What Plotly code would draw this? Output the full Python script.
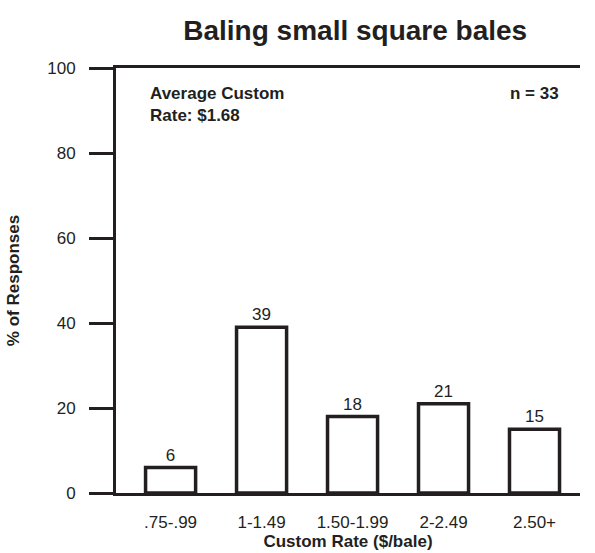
import plotly.graph_objects as go

categories = [".75-.99", "1-1.49", "1.50-1.99", "2-2.49", "2.50+"]
values = [6, 39, 18, 21, 15]
y_ticks = [0, 20, 40, 60, 80, 100]

INK = "#231f20"
FONT = "Liberation Sans, Arial, Helvetica, sans-serif"

fig = go.Figure(go.Bar(
    x=categories, y=values,
    width=0.55,
    marker=dict(color="white", line=dict(color=INK, width=3.5)),
    text=values, textposition="outside", cliponaxis=False,
    textfont=dict(family=FONT, size=17, color=INK),
))

fig.update_layout(
    width=595, height=553,
    margin=dict(l=116, r=15, t=68, b=60),
    paper_bgcolor="white", plot_bgcolor="white",
    font=dict(family=FONT, color=INK),
    showlegend=False,
    title=dict(text="<b>Baling small square bales</b>", x=0.597, xanchor="center",
               y=0.945, yanchor="middle", font=dict(size=28, color=INK)),
    xaxis=dict(
        type="category", range=[-0.6, 4.5], automargin=False,
        showline=True, linecolor=INK, linewidth=3, mirror=True,
        ticks="", showgrid=False,
        tickfont=dict(size=17, color=INK), ticklabelstandoff=12,
        title=dict(text="<b>Custom Rate ($/bale)</b>", font=dict(size=17, color=INK), standoff=3),
    ),
    yaxis=dict(
        range=[0, 100], tickvals=y_ticks, automargin=False,
        showline=True, linecolor=INK, linewidth=3, mirror=False,
        ticks="outside", ticklen=24, tickwidth=3, tickcolor=INK,
        showgrid=False, zeroline=False,
        tickfont=dict(size=17, color=INK), ticklabelstandoff=10,
        title=dict(text="<b>% of Responses</b>", font=dict(size=17, color=INK), standoff=24),
    ),
    annotations=[
        dict(text="<b>Average Custom<br>Rate: $1.68</b>", xref="paper", yref="paper",
             x=0.068, y=0.968, xanchor="left", yanchor="top", align="left",
             showarrow=False, font=dict(size=17, color=INK)),
        dict(text="<b>n = 33</b>", xref="paper", yref="paper",
             x=0.958, y=0.968, xanchor="right", yanchor="top", align="right",
             showarrow=False, font=dict(size=17, color=INK)),
    ],
)

fig.write_html("out.html")
